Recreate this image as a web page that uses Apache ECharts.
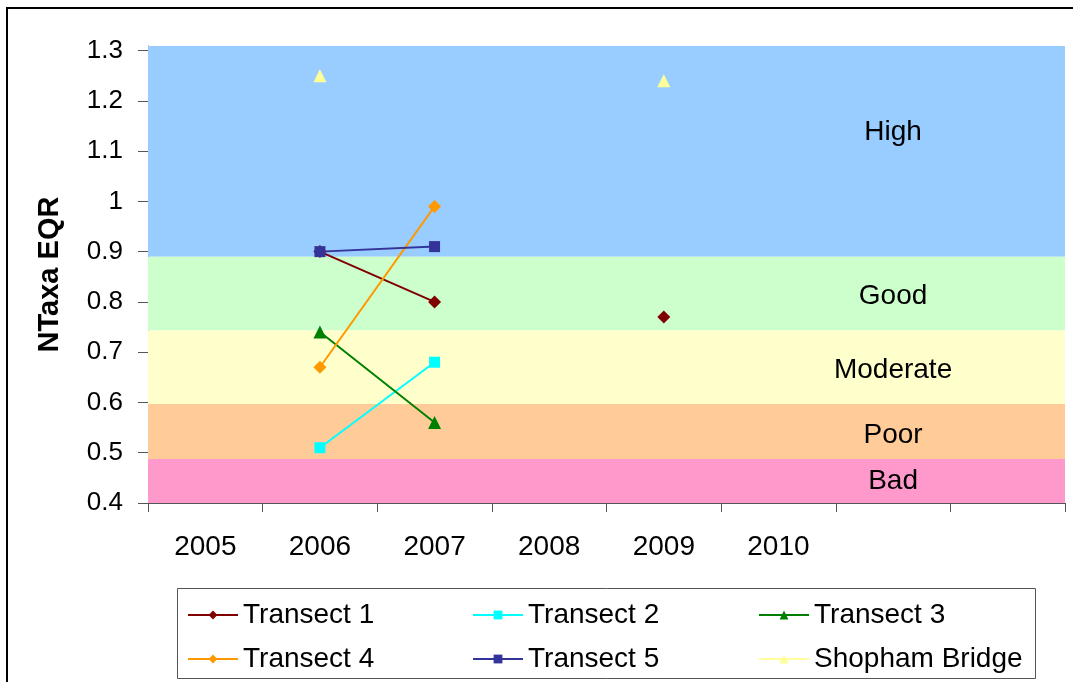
<!DOCTYPE html>
<html>
<head>
<meta charset="utf-8">
<script src="https://cdn.jsdelivr.net/npm/echarts@6/dist/echarts.min.js"></script>
<style>
  html, body { margin: 0; padding: 0; background: #fff; }
  #chart { width: 1073px; height: 682px; }
</style>
</head>
<body>
<div id="chart"></div>
<script>
// Sampling years along the x axis (two trailing empty slots)
const years = ['2005', '2006', '2007', '2008', '2009', '2010', '', ''];

// NTaxa EQR per site and year (null = not sampled)
const transect1 = [null, 0.90, 0.80, null, 0.77, null, null, null];
const transect2 = [null, 0.51, 0.68, null, null, null, null, null];
const transect3 = [null, 0.74, 0.56, null, null, null, null, null];
const transect4 = [null, 0.67, 0.99, null, null, null, null, null];
const transect5 = [null, 0.90, 0.91, null, null, null, null, null];
const shopham   = [null, 1.25, null, null, 1.24, null, null, null];

// Value axis ticks
const eqrTicks = [0.4, 0.5, 0.6, 0.7, 0.8, 0.9, 1.0, 1.1, 1.2, 1.3];

// Status class boundaries (lower, upper) and names
const classNames = ['High', 'Good', 'Moderate', 'Poor', 'Bad'];
const classLower = [0.89, 0.743, 0.597, 0.4875, 0.4];
const classUpper = [1.309, 0.89, 0.743, 0.597, 0.4875];
const classColors = ['#99CCFF', '#CCFFCC', '#FFFFCC', '#FFCC99', '#FF99CC'];
// Where each class name sits on the value axis
const classLabelY = [1.138, 0.811, 0.664, 0.535, 0.443];
const classLabelSlot = 6;

const FONT = '"Liberation Sans", Arial, sans-serif';

const chart = echarts.init(document.getElementById('chart'), null, { renderer: 'canvas' });

function lineSeries(name, data, color, symbol, size) {
  return {
    name: name,
    type: 'line',
    data: data,
    connectNulls: false,
    showAllSymbol: true,
    symbol: symbol,
    symbolSize: size,
    itemStyle: { color: color },
    lineStyle: { color: color, width: 2 },
    z: 5
  };
}

const bandAreas = classNames.map((n, i) => [
  { yAxis: classLower[i], itemStyle: { color: classColors[i], opacity: 1 } },
  { yAxis: classUpper[i] }
]);

const legendBase = {
  orient: 'vertical',
  top: 595,
  itemWidth: 50,
  itemHeight: 11,
  itemGap: 14,
  selectedMode: false,
  textStyle: { fontFamily: FONT, fontSize: 28, color: '#000', lineHeight: 30 }
};

chart.setOption({
  animation: false,
  backgroundColor: '#fff',
  grid: { left: 148, top: 46, right: 8, bottom: 179, containLabel: false },
  xAxis: {
    type: 'category',
    data: years,
    boundaryGap: true,
    axisLine: { show: true, lineStyle: { color: '#555', width: 1 } },
    axisTick: { show: true, length: 9, alignWithLabel: false, interval: 0, lineStyle: { color: '#555' } },
    axisLabel: { interval: 0, margin: 30, fontFamily: FONT, fontSize: 28, color: '#000' },
    splitLine: { show: false }
  },
  yAxis: {
    type: 'value',
    min: 0.4,
    max: classUpper[0],
    name: 'NTaxa EQR',
    nameLocation: 'middle',
    nameGap: 84,
    nameTextStyle: { fontFamily: FONT, fontSize: 29, fontWeight: 'bold', color: '#000' },
    axisLine: { show: true, lineStyle: { color: '#555', width: 1 } },
    axisTick: { show: true, length: 10, customValues: eqrTicks, lineStyle: { color: '#555' } },
    axisLabel: {
      margin: 25, customValues: eqrTicks, fontFamily: FONT, fontSize: 26, color: '#000',
      formatter: v => String(Math.round(v * 10) / 10)
    },
    splitLine: { show: false }
  },
  legend: [
    Object.assign({}, legendBase, { left: 182, data: ['Transect 1', 'Transect 4'] }),
    Object.assign({}, legendBase, { left: 467, data: ['Transect 2', 'Transect 5'] }),
    Object.assign({}, legendBase, {
      left: 753,
      data: ['Transect 3', { name: 'Shopham Bridge', lineStyle: { color: '#FFFF99', width: 2, opacity: 1 } }]
    })
  ],
  graphic: [
    { type: 'rect', shape: { x: 7, y: 8, width: 1200, height: 800 },
      style: { fill: null, stroke: '#000', lineWidth: 2 }, silent: true, z: 100 },
    { type: 'rect', shape: { x: 177.5, y: 588.5, width: 858, height: 90 },
      style: { fill: null, stroke: '#555', lineWidth: 1 }, silent: true, z: 100 }
  ],
  series: [
    {
      name: 'classes',
      type: 'line',
      data: years.map(() => null),
      silent: true,
      symbol: 'none',
      z: 1,
      markArea: { silent: true, label: { show: false }, data: bandAreas }
    },
    {
      name: 'class labels',
      type: 'scatter',
      silent: true,
      symbolSize: 0,
      z: 3,
      itemStyle: { opacity: 1 },
      data: classNames.map((n, i) => ({ name: n, value: [classLabelSlot, classLabelY[i]] })),
      label: {
        show: true,
        position: 'inside',
        formatter: p => p.name,
        fontFamily: FONT,
        fontSize: 28,
        color: '#000',
        opacity: 1,
        textBorderWidth: 0
      }
    },
    lineSeries('Transect 1', transect1, '#800000', 'diamond', 13),
    lineSeries('Transect 2', transect2, '#00FFFF', 'rect', 11),
    lineSeries('Transect 3', transect3, '#008000', 'triangle', 13),
    lineSeries('Transect 4', transect4, '#FF9900', 'diamond', 13),
    lineSeries('Transect 5', transect5, '#333399', 'rect', 11),
    Object.assign(lineSeries('Shopham Bridge', shopham, '#FFFF99', 'triangle', 13),
      { lineStyle: { color: '#FFFF99', width: 0, opacity: 0 } })
  ]
});
</script>
</body>
</html>
